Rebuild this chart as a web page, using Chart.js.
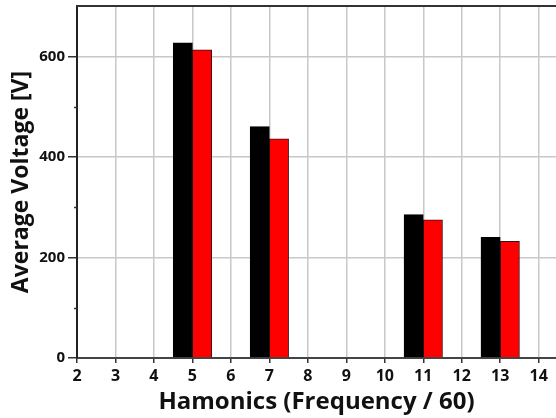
<!DOCTYPE html>
<html>
<head>
<meta charset="utf-8">
<script src="https://cdn.jsdelivr.net/npm/chart.js@4.4.1/dist/chart.umd.min.js"></script>
<style>
html,body{margin:0;padding:0;background:#fff;}
#wrap{width:556px;height:418px;}
</style>
</head>
<body>
<div id="wrap"><canvas id="c" width="556" height="418"></canvas></div>
<script>
const harmonics = [5, 7, 11, 13];
const seriesBlack = [627, 460, 285, 240];
const seriesRed = [613, 436, 275, 232];
const xTitle = 'Hamonics (Frequency / 60)';
const yTitle = 'Average Voltage [V]';

const FONT = '"Open Sans", "DejaVu Sans", sans-serif';

const frame = {
  id: 'frame',
  afterDraw(chart) {
    const ctx = chart.ctx, a = chart.chartArea, y = chart.scales.y;
    ctx.save();
    ctx.strokeStyle = '#333';
    ctx.lineWidth = 2;
    ctx.beginPath();
    ctx.moveTo(a.left - 1, a.top);
    ctx.lineTo(chart.width, a.top);
    ctx.stroke();
    ctx.lineWidth = 1.5;
    ctx.beginPath();
    for (let v = 100; v < 700; v += 200) {
      const py = Math.round(y.getPixelForValue(v)) + 0.5;
      ctx.moveTo(a.left - 3, py);
      ctx.lineTo(a.left, py);
    }
    ctx.stroke();
    ctx.restore();
  }
};

new Chart(document.getElementById('c'), {
  type: 'bar',
  data: {
    datasets: [
      {
        data: harmonics.map((h, i) => ({x: h, y: seriesBlack[i]})),
        backgroundColor: '#000000',
        borderColor: '#000000',
        borderWidth: 1,
        categoryPercentage: 1,
        barPercentage: 1
      },
      {
        data: harmonics.map((h, i) => ({x: h, y: seriesRed[i]})),
        backgroundColor: '#ff0000',
        borderColor: '#3a1010',
        borderWidth: 1,
        categoryPercentage: 1,
        barPercentage: 1
      }
    ]
  },
  options: {
    responsive: false,
    animation: false,
    layout: {padding: {top: 6, right: 0, left: 0, bottom: 0}},
    plugins: {legend: {display: false}, tooltip: {enabled: false}},
    scales: {
      x: {
        type: 'linear',
        offset: false,
        min: 2,
        max: 14.45,
        afterFit(s) { s.height = 60; s.paddingLeft = 0; s.paddingRight = 0; },
        ticks: {
          stepSize: 1,
          includeBounds: false,
          color: '#111',
          padding: 4,
          font: {family: FONT, size: 16, weight: 'bold'}
        },
        grid: {
          offset: false,
          color: '#c8c8c8',
          lineWidth: 1.5,
          tickLength: 5,
          tickColor: '#333',
          tickWidth: 1.5
        },
        border: {color: '#444', width: 2},
        title: {
          display: true,
          text: xTitle,
          color: '#111',
          padding: {top: 0, bottom: 1},
          font: {family: FONT, size: 24, weight: 'bold'}
        }
      },
      y: {
        min: 0,
        max: 700,
        afterFit(s) { s.width = 77; s.paddingTop = 0; s.paddingBottom = 0; },
        ticks: {
          stepSize: 200,
          includeBounds: false,
          color: '#111',
          padding: 3,
          font: {family: FONT, size: 15, weight: 'bold'}
        },
        grid: {
          color: '#c8c8c8',
          lineWidth: 1.5,
          tickLength: 9,
          tickColor: '#333',
          tickWidth: 1.5
        },
        border: {color: '#222', width: 2},
        title: {
          display: true,
          text: yTitle,
          color: '#111',
          padding: {top: 8, bottom: 0},
          font: {family: FONT, size: 23, weight: 'bold'}
        }
      }
    }
  },
  plugins: [frame]
});
</script>
</body>
</html>
